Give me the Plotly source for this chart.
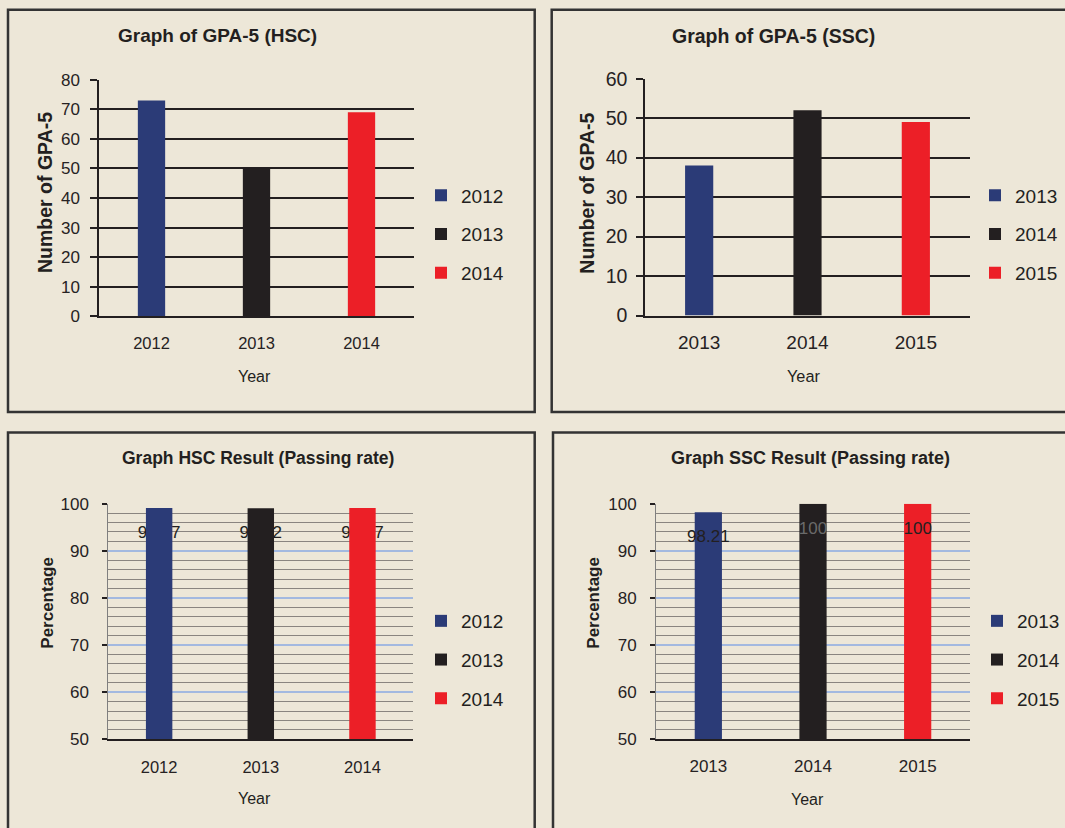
import plotly.graph_objects as go

W, H = 1065, 828

# GPA-5 counts per year
hsc_gpa_years = ["2012", "2013", "2014"]
hsc_gpa_counts = [73, 50, 69]
ssc_gpa_years = ["2013", "2014", "2015"]
ssc_gpa_counts = [38, 52, 49]

# Pass rates (%) per year
hsc_pass_years = ["2012", "2013", "2014"]
hsc_pass_rates = [99.07, 99.02, 99.07]
ssc_pass_years = ["2013", "2014", "2015"]
ssc_pass_rates = [98.21, 100, 100]

BAR_COLORS = ["#2b3b77", "#231f20", "#ec1f27"]
BG = "#ede7d8"
INK = "#231f20"
TICK_INK = "#262223"
FONT = "Liberation Sans, Arial, sans-serif"
BAR_WIDTH = 0.26
LABEL_DROP = 5.5  # value labels sit this many % below the bar top


def px(x):
    return x / W


def py(y):
    return 1 - y / H


def xdom(a, b):
    return [px(a), px(b)]


def ydom(top, bottom):
    return [py(bottom), py(top)]


fig = go.Figure()


def add_bars(years, values, xa, ya, legend, group):
    for i, (yr, v) in enumerate(zip(years, values)):
        fig.add_trace(go.Bar(
            x=[yr], y=[v], width=BAR_WIDTH, name=yr,
            marker=dict(color=BAR_COLORS[i], line=dict(width=0)),
            xaxis=xa, yaxis=ya, legend=legend,
            legendgroup=f"{group}{yr}", hoverinfo="x+y",
        ))


def add_labels(years, values, xa, ya, colors):
    fig.add_trace(go.Scatter(
        x=years, y=[v - LABEL_DROP for v in values], mode="text",
        text=[f"{v:g}" for v in values], textposition="middle center",
        textfont=dict(family=FONT, size=17, color=colors),
        xaxis=xa, yaxis=ya, showlegend=False, hoverinfo="skip",
        cliponaxis=False,
    ))


# Top-left: GPA-5 (HSC)
add_bars(hsc_gpa_years, hsc_gpa_counts, "x", "y", "legend", "hg")
# Top-right: GPA-5 (SSC)
add_bars(ssc_gpa_years, ssc_gpa_counts, "x2", "y2", "legend2", "sg")
# Bottom-left: HSC pass rate - labels underneath, bars on an overlaid axis pair
add_labels(hsc_pass_years, hsc_pass_rates, "x3", "y3", [INK, INK, INK])
add_bars(hsc_pass_years, hsc_pass_rates, "x5", "y5", "legend3", "hp")
# Bottom-right: SSC pass rate - labels drawn over the bars
add_bars(ssc_pass_years, ssc_pass_rates, "x4", "y4", "legend4", "sp")
add_labels(ssc_pass_years, ssc_pass_rates, "x4", "y4", [INK, "#6a6a6a", INK])


def cat_axis(domain, anchor, cats, size, standoff):
    return dict(
        domain=domain, anchor=anchor, type="category", categoryorder="array",
        categoryarray=cats, range=[-0.5, 2.5], showgrid=False,
        zeroline=False, showline=True, linecolor=INK, linewidth=1.5,
        ticks="", tickfont=dict(family=FONT, size=size, color=TICK_INK),
        ticklabelstandoff=standoff, fixedrange=True,
    )


def count_axis(domain, anchor, top, size, standoff):
    return dict(
        domain=domain, anchor=anchor, range=[0, top], dtick=10, tick0=0,
        showgrid=True, gridcolor=INK, gridwidth=1.5, zeroline=False,
        showline=True, linecolor=INK, linewidth=1.5,
        ticks="outside", ticklen=7, tickwidth=1.5, tickcolor=INK,
        tickfont=dict(family=FONT, size=size, color=TICK_INK),
        ticklabelstandoff=standoff, fixedrange=True,
    )


def pct_axis(domain, anchor, size, standoff):
    return dict(
        domain=domain, anchor=anchor, range=[50, 100], dtick=10, tick0=50,
        showgrid=True, gridcolor="#a3b9e0", gridwidth=2, zeroline=False,
        minor=dict(dtick=2, showgrid=True, gridcolor="#8a8580",
                   gridwidth=1, ticks=""),
        showline=True, linecolor="#7f7f7f", linewidth=1,
        ticks="outside", ticklen=5, tickwidth=1.5, tickcolor=INK,
        tickfont=dict(family=FONT, size=size, color=TICK_INK),
        ticklabelstandoff=standoff, fixedrange=True,
    )


tl_x, tl_y = xdom(99, 414), ydom(79.7, 316.3)
tr_x, tr_y = xdom(645, 970), ydom(78.7, 315.5)
bl_x, bl_y = xdom(108.3, 413.3), ydom(503.7, 739.3)
br_x, br_y = xdom(656, 970), ydom(503.7, 739.3)


def legend_at(left, top):
    return dict(
        x=px(left), y=py(top), xanchor="left", yanchor="top",
        bgcolor="rgba(0,0,0,0)", borderwidth=0, tracegroupgap=11,
        font=dict(family=FONT, size=19, color=INK), itemclick=False,
        itemdoubleclick=False,
    )


annotations = []


def text_at(x, y, text, size, bold=False, angle=0):
    annotations.append(dict(
        x=px(x), y=py(y), xref="paper", yref="paper",
        text=f"<b>{text}</b>" if bold else text, showarrow=False,
        xanchor="center", yanchor="middle", textangle=angle,
        font=dict(family=FONT, size=size, color=INK),
    ))


text_at(217, 36, "Graph of GPA-5 (HSC)", 19, bold=True)
text_at(773, 36, "Graph of GPA-5 (SSC)", 19.5, bold=True)
text_at(258.3, 458.3, "Graph HSC Result (Passing rate)", 17.5, bold=True)
text_at(810, 458.3, "Graph SSC Result (Passing rate)", 18, bold=True)

text_at(45, 193, "Number of GPA-5", 19.5, bold=True, angle=-90)
text_at(586.7, 193, "Number of GPA-5", 19.5, bold=True, angle=-90)
text_at(46.7, 603, "Percentage", 17, bold=True, angle=-90)
text_at(592.7, 603, "Percentage", 17, bold=True, angle=-90)

text_at(255, 376, "Year", 16)
text_at(803, 376, "Year", 16.3)
text_at(255, 798.3, "Year", 16)
text_at(807.3, 799, "Year", 16)

# Panel frames
shapes = []
for x0, y0, x1, y1 in [(8, 9.7, 534.7, 412), (551.7, 9.7, 1090, 412),
                       (8, 432.5, 534.7, 860), (553, 432.5, 1090, 860)]:
    shapes.append(dict(
        type="rect", xref="paper", yref="paper",
        x0=px(x0), x1=px(x1), y0=py(y1), y1=py(y0),
        line=dict(color="#333333", width=2.5), fillcolor="rgba(0,0,0,0)",
    ))

fig.update_layout(
    width=W, height=H, autosize=False,
    margin=dict(l=0, r=0, t=0, b=0, pad=0, autoexpand=False),
    paper_bgcolor=BG, plot_bgcolor=BG,
    font=dict(family=FONT, color=INK),
    barmode="overlay", showlegend=True, hovermode="closest",
    xaxis=cat_axis(tl_x, "y", hsc_gpa_years, 16.5, 11),
    yaxis=count_axis(tl_y, "x", 80, 17, 7),
    xaxis2=cat_axis(tr_x, "y2", ssc_gpa_years, 19, 9),
    yaxis2=count_axis(tr_y, "x2", 60, 19.5, 5),
    xaxis3=cat_axis(bl_x, "y3", hsc_pass_years, 16.5, 12),
    yaxis3=pct_axis(bl_y, "x3", 17, 10),
    xaxis4=cat_axis(br_x, "y4", ssc_pass_years, 17, 11),
    yaxis4=pct_axis(br_y, "x4", 17, 10),
    xaxis5=dict(overlaying="x3", anchor="y5", type="category",
                categoryorder="array", categoryarray=hsc_pass_years,
                range=[-0.5, 2.5], visible=False, fixedrange=True),
    yaxis5=dict(overlaying="y3", anchor="x5", range=[50, 100],
                visible=False, fixedrange=True),
    legend=legend_at(421, 176.5),
    legend2=legend_at(975, 176.5),
    legend3=legend_at(421, 602),
    legend4=legend_at(977, 602),
    annotations=annotations,
    shapes=shapes,
)

fig.write_html("out.html", config={"displayModeBar": False})
